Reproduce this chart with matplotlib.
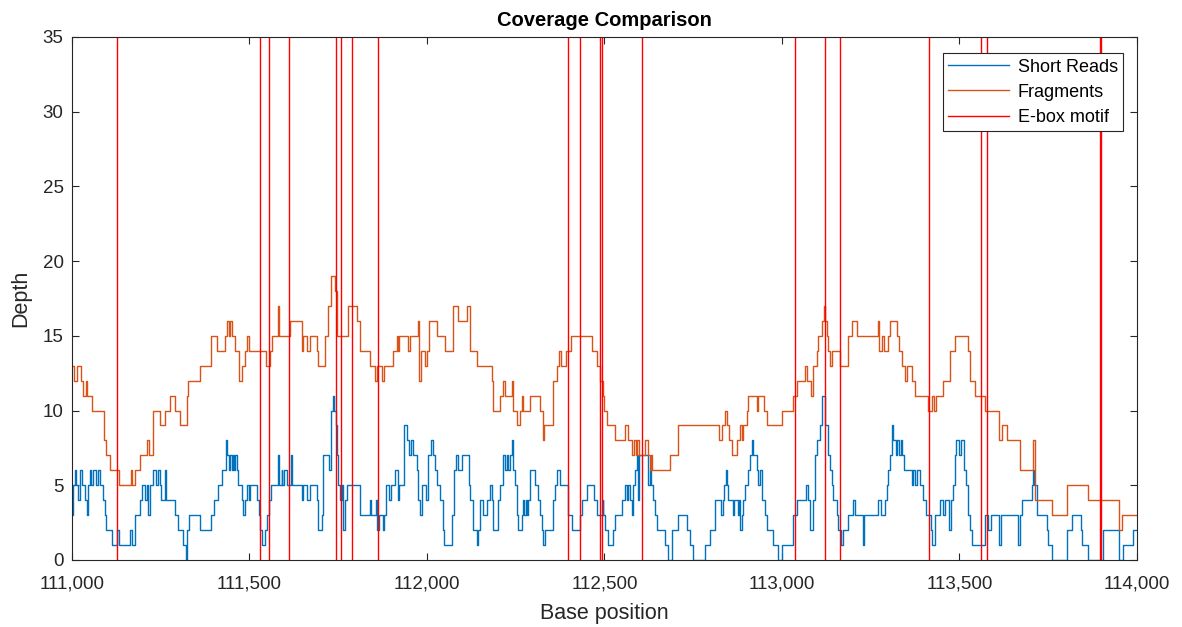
import matplotlib
matplotlib.use("Agg")
import matplotlib.pyplot as plt
from matplotlib.ticker import FuncFormatter

# coverage step changes: (base position, depth)
short_reads = [
    (111000, 3), (111002, 5), (111008, 6), (111011, 5), (111018, 4), (111022, 6), (111027, 5),
    (111036, 4), (111041, 3), (111046, 5), (111051, 6), (111053, 5), (111060, 6), (111069, 5),
    (111072, 6), (111079, 5), (111088, 4), (111093, 3), (111097, 2), (111112, 1), (111128, 2),
    (111132, 1), (111163, 2), (111168, 1), (111177, 3), (111191, 4), (111196, 5), (111205, 4),
    (111210, 5), (111215, 3), (111220, 5), (111229, 6), (111238, 5), (111243, 6), (111248, 5),
    (111252, 4), (111262, 6), (111266, 4), (111290, 3), (111299, 2), (111313, 1), (111321, 0),
    (111324, 2), (111329, 3), (111361, 2), (111393, 3), (111400, 4), (111412, 5), (111422, 6),
    (111433, 8), (111437, 7), (111443, 6), (111446, 7), (111450, 6), (111453, 7), (111457, 6),
    (111460, 7), (111465, 6), (111469, 5), (111478, 4), (111483, 3), (111487, 4), (111492, 5),
    (111499, 4), (111501, 5), (111520, 4), (111527, 3), (111531, 2), (111536, 1), (111544, 2),
    (111548, 3), (111555, 4), (111562, 5), (111579, 7), (111584, 5), (111591, 6), (111593, 5),
    (111597, 6), (111605, 5), (111617, 7), (111621, 5), (111647, 4), (111652, 5), (111661, 4),
    (111670, 5), (111689, 4), (111694, 2), (111703, 3), (111708, 7), (111725, 6), (111730, 10),
    (111734, 11), (111739, 10), (111743, 9), (111746, 7), (111750, 5), (111755, 4), (111762, 5),
    (111764, 2), (111769, 4), (111774, 5), (111811, 3), (111839, 4), (111843, 3), (111856, 4),
    (111859, 2), (111864, 3), (111875, 2), (111880, 3), (111885, 5), (111894, 4), (111900, 5),
    (111910, 6), (111917, 4), (111922, 5), (111935, 9), (111943, 8), (111950, 7), (111955, 8),
    (111960, 7), (111971, 6), (111976, 4), (111980, 3), (111985, 5), (111997, 4), (112002, 7),
    (112010, 8), (112016, 7), (112023, 6), (112029, 5), (112037, 4), (112044, 2), (112048, 1),
    (112070, 3), (112076, 6), (112082, 7), (112088, 6), (112098, 7), (112117, 5), (112120, 4),
    (112131, 2), (112141, 1), (112145, 2), (112149, 4), (112159, 3), (112168, 4), (112178, 5),
    (112182, 4), (112187, 2), (112201, 4), (112206, 5), (112215, 7), (112220, 6), (112225, 7),
    (112229, 6), (112234, 7), (112239, 8), (112243, 6), (112248, 5), (112253, 3), (112257, 2),
    (112267, 3), (112271, 4), (112274, 3), (112278, 4), (112281, 3), (112285, 4), (112290, 6),
    (112304, 5), (112314, 4), (112318, 3), (112323, 2), (112327, 1), (112332, 2), (112354, 4),
    (112361, 5), (112365, 6), (112375, 5), (112398, 3), (112408, 2), (112431, 3), (112436, 4),
    (112450, 5), (112471, 4), (112478, 3), (112495, 4), (112497, 3), (112501, 2), (112511, 1),
    (112525, 2), (112530, 3), (112549, 4), (112558, 5), (112563, 4), (112567, 5), (112572, 4),
    (112577, 3), (112581, 5), (112586, 6), (112591, 7), (112594, 4), (112596, 7), (112624, 5),
    (112628, 6), (112631, 5), (112638, 4), (112642, 3), (112647, 2), (112671, 1), (112680, 0),
    (112689, 2), (112708, 3), (112732, 2), (112741, 1), (112750, 0), (112783, 1), (112797, 2),
    (112811, 4), (112828, 3), (112833, 4), (112838, 5), (112841, 6), (112846, 5), (112849, 4),
    (112861, 3), (112866, 4), (112875, 3), (112879, 4), (112882, 2), (112886, 3), (112891, 4),
    (112896, 5), (112905, 6), (112910, 7), (112915, 8), (112919, 7), (112929, 6), (112933, 5),
    (112938, 6), (112943, 4), (112952, 3), (112957, 2), (112976, 1), (112990, 0), (112999, 1),
    (113032, 3), (113041, 4), (113067, 5), (113072, 4), (113080, 2), (113086, 4), (113093, 7),
    (113098, 8), (113107, 9), (113114, 11), (113121, 9), (113129, 7), (113134, 6), (113140, 5),
    (113145, 4), (113154, 3), (113159, 2), (113166, 1), (113173, 2), (113185, 3), (113199, 4),
    (113206, 3), (113227, 1), (113232, 3), (113271, 4), (113279, 3), (113290, 4), (113295, 5),
    (113300, 6), (113304, 7), (113310, 9), (113314, 8), (113321, 7), (113325, 8), (113331, 7),
    (113334, 8), (113339, 7), (113344, 6), (113365, 5), (113370, 6), (113375, 5), (113379, 6),
    (113389, 5), (113396, 4), (113406, 3), (113419, 2), (113424, 1), (113431, 3), (113445, 4),
    (113453, 3), (113459, 4), (113471, 2), (113476, 4), (113483, 5), (113487, 7), (113490, 8),
    (113500, 7), (113503, 8), (113514, 6), (113518, 5), (113525, 3), (113530, 2), (113534, 1),
    (113572, 3), (113581, 2), (113588, 3), (113612, 1), (113617, 3), (113666, 1), (113671, 3),
    (113675, 4), (113703, 5), (113708, 6), (113711, 5), (113718, 3), (113746, 2), (113750, 1),
    (113760, 0), (113802, 2), (113816, 3), (113842, 2), (113846, 1), (113863, 0), (113905, 2),
    (113950, 0), (113962, 1), (113990, 2), (114000, 2),
]

fragments = [
    (111000, 13), (111005, 12), (111013, 13), (111024, 12), (111030, 11), (111039, 12), (111043, 11),
    (111056, 10), (111090, 8), (111097, 7), (111107, 6), (111133, 5), (111166, 6), (111170, 5),
    (111177, 6), (111191, 7), (111212, 8), (111216, 7), (111229, 10), (111248, 9), (111262, 10),
    (111276, 11), (111290, 10), (111304, 9), (111323, 11), (111328, 12), (111361, 13), (111393, 15),
    (111408, 14), (111431, 15), (111437, 16), (111443, 15), (111446, 16), (111450, 15), (111459, 14),
    (111471, 12), (111478, 13), (111487, 14), (111494, 15), (111499, 14), (111546, 13), (111558, 14),
    (111564, 15), (111579, 17), (111584, 15), (111614, 16), (111647, 14), (111652, 15), (111661, 14),
    (111670, 15), (111689, 14), (111694, 13), (111713, 15), (111722, 17), (111730, 19), (111740, 18),
    (111746, 15), (111778, 17), (111802, 16), (111811, 14), (111839, 13), (111854, 12), (111858, 13),
    (111872, 12), (111879, 13), (111905, 14), (111915, 15), (111917, 14), (111920, 15), (111947, 14),
    (111952, 15), (111976, 16), (111978, 12), (111983, 14), (111994, 13), (112001, 14), (112006, 16),
    (112027, 15), (112051, 14), (112074, 17), (112088, 16), (112112, 17), (112120, 14), (112140, 13),
    (112182, 12), (112187, 10), (112206, 11), (112215, 12), (112220, 11), (112239, 12), (112241, 10),
    (112253, 9), (112262, 10), (112267, 11), (112271, 10), (112290, 11), (112318, 10), (112326, 8),
    (112330, 9), (112356, 12), (112365, 13), (112373, 14), (112377, 13), (112392, 14), (112405, 15),
    (112464, 14), (112478, 13), (112487, 12), (112495, 11), (112500, 10), (112506, 9), (112530, 8),
    (112558, 9), (112567, 8), (112578, 7), (112583, 8), (112588, 7), (112593, 8), (112597, 7),
    (112614, 8), (112624, 7), (112628, 6), (112631, 7), (112635, 6), (112685, 7), (112706, 9),
    (112824, 8), (112830, 9), (112840, 10), (112846, 9), (112852, 8), (112858, 7), (112872, 8),
    (112882, 9), (112886, 8), (112891, 9), (112901, 10), (112905, 11), (112929, 10), (112933, 11),
    (112948, 10), (112957, 9), (113000, 10), (113032, 11), (113041, 12), (113065, 13), (113070, 12),
    (113082, 11), (113086, 13), (113098, 14), (113102, 15), (113114, 16), (113117, 17), (113121, 16),
    (113126, 15), (113131, 14), (113135, 13), (113140, 14), (113164, 13), (113187, 15), (113196, 16),
    (113210, 15), (113271, 16), (113274, 14), (113281, 15), (113286, 14), (113300, 15), (113304, 16),
    (113325, 15), (113330, 14), (113339, 13), (113347, 12), (113351, 13), (113365, 12), (113375, 11),
    (113412, 10), (113422, 11), (113427, 10), (113433, 11), (113455, 12), (113473, 14), (113487, 15),
    (113525, 14), (113530, 12), (113544, 11), (113572, 10), (113610, 8), (113619, 9), (113633, 8),
    (113671, 6), (113708, 8), (113713, 4), (113760, 3), (113802, 5), (113863, 4), (113948, 2),
    (113957, 3), (114000, 3),
]

# E-box motif positions
ebox = [111126, 111529, 111556, 111612, 111743, 111759, 111788, 111862, 112398, 112432,
        112488, 112492, 112607, 113037, 113121, 113163, 113415, 113560, 113578, 113895, 113900]

xticks = [111000, 111500, 112000, 112500, 113000, 113500, 114000]
yticks = [0, 5, 10, 15, 20, 25, 30, 35]

plt.rcParams["font.family"] = ["Liberation Sans", "DejaVu Sans"]
dark = "#262626"

fig = plt.figure(figsize=(11.82, 6.27), dpi=100)
ax = fig.add_axes([0.0609, 0.1069, 0.9010, 0.8341])

sx, sy = zip(*short_reads)
fx, fy = zip(*fragments)
ax.plot(sx, sy, drawstyle="steps-post", color="#0072BD", lw=1.0, label="Short Reads")
ax.plot(fx, fy, drawstyle="steps-post", color="#D95319", lw=1.0, label="Fragments")
for i, pos in enumerate(ebox):
    ax.axvline(pos, color="red", lw=1.0, label="E-box motif" if i == 0 else None)

ax.set_xlim(111000, 114000)
ax.set_ylim(0, 35)
ax.set_xticks(xticks)
ax.set_yticks(yticks)
ax.xaxis.set_major_formatter(FuncFormatter(lambda v, p: f"{int(v):,}"))
ax.tick_params(direction="in", length=5, width=0.8, colors=dark, labelsize=13.5,
               top=True, right=True, pad=6)
ax.tick_params(axis="x", pad=11)
for s in ax.spines.values():
    s.set_color(dark)
    s.set_linewidth(0.8)

ax.set_xlabel("Base position", fontsize=15.5, color=dark, labelpad=8)
ax.set_ylabel("Depth", fontsize=15.5, color=dark, labelpad=8)
ax.set_title("Coverage Comparison", fontsize=14.5, fontweight="bold", color="black", pad=8)

leg = ax.legend(loc="upper right", fontsize=13, frameon=True, fancybox=False,
                handlelength=3.4, borderpad=0.3, labelspacing=0.45, handletextpad=0.45,
                borderaxespad=0, bbox_to_anchor=(0.987, 0.969))
leg.get_frame().set_edgecolor(dark)
leg.get_frame().set_linewidth(0.8)
leg.get_frame().set_alpha(1)

fig.savefig("out.png", dpi=100)
